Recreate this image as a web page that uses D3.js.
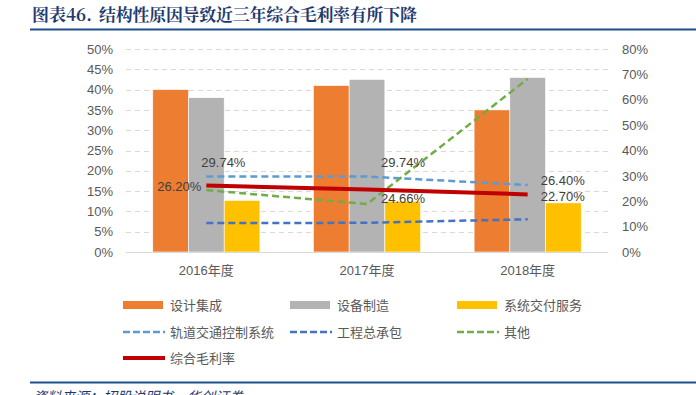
<!DOCTYPE html>
<html>
<head>
<meta charset="UTF-8">
<script src="https://d3js.org/d3.v7.min.js"></script>
<style>
  body { margin: 0; background: #fff; font-family: "Liberation Sans", "Noto Sans CJK SC", sans-serif; }
  svg text { font-family: "Liberation Sans", "Noto Sans CJK SC", sans-serif; }
</style>
</head>
<body>
<div id="chart"></div>
<script>
// categories
const years = ["2016年度", "2017年度", "2018年度"];

// bar series (left axis)
const barSeries = ["设计集成", "设备制造", "系统交付服务"];
const sheji = [40.0, 41.0, 35.0];
const shebei = [38.0, 42.5, 43.0];
const jiaofu = [12.7, 12.5, 12.1];

// line series (right axis)
const guidao = [29.74, 29.74, 26.40];
const gongcheng = [11.4, 11.5, 12.9];
const qita = [24.4, 18.9, 68.2];
const zonghe = [26.20, 24.66, 22.70];

const leftTicks = [0, 5, 10, 15, 20, 25, 30, 35, 40, 45, 50];
const rightTicks = [0, 10, 20, 30, 40, 50, 60, 70, 80];

const W = 696, H = 395;
const m = { left: 126, right: 608, top: 49, bottom: 252 };

const svg = d3.select("#chart").append("svg")
  .attr("width", W).attr("height", H);

// title
const titleStyle = sel => sel.attr("y", 21).attr("fill", "#1f3a6e")
  .style("font-family", "'Noto Serif CJK SC', 'Noto Sans CJK SC', serif")
  .style("font-size", "17px").style("font-weight", "bold");
svg.append("text").attr("x", 32).call(titleStyle).text("图表46.");
svg.append("text").attr("x", 99).call(titleStyle)
  .attr("textLength", 318).attr("lengthAdjust", "spacing")
  .text("结构性原因导致近三年综合毛利率有所下降");
svg.append("line").attr("x1", 30).attr("x2", 696).attr("y1", 29.5).attr("y2", 29.5)
  .attr("stroke", "#1f4e8c").attr("stroke-width", 2);

// scales
const x = d3.scaleBand().domain(years).range([m.left, m.right]).paddingInner(0).paddingOuter(0);
const xs = d3.scaleBand().domain(barSeries).range([0, x.bandwidth()]).paddingInner(0).paddingOuter(0.75);
const yL = d3.scaleLinear().domain([0, 50]).range([m.bottom, m.top]);
const yR = d3.scaleLinear().domain([0, 80]).range([m.bottom, m.top]);

// gridlines
svg.append("g").selectAll("line").data(leftTicks.slice(1)).join("line")
  .attr("x1", m.left).attr("x2", m.right)
  .attr("y1", d => Math.round(yL(d)) + 0.5).attr("y2", d => Math.round(yL(d)) + 0.5)
  .attr("stroke", "#d9d9d9").attr("stroke-dasharray", "5,4");

// left axis
const axL = svg.append("g").attr("transform", `translate(${m.left - 8},0)`)
  .call(d3.axisLeft(yL).tickValues(leftTicks).tickFormat(d => d + "%").tickSize(0).tickPadding(5));
axL.select(".domain").remove();
axL.selectAll("text").attr("fill", "#595959").style("font-size", "13px");

// right axis
const axR = svg.append("g").attr("transform", `translate(${m.right + 14},0)`)
  .call(d3.axisRight(yR).tickValues(rightTicks).tickFormat(d => d + "%").tickSize(0).tickPadding(0));
axR.select(".domain").remove();
axR.selectAll("text").attr("fill", "#595959").style("font-size", "13px");

// bars
const barColors = ["#ed7d31", "#b3b3b3", "#ffc000"];
const barData = [sheji, shebei, jiaofu];
barData.forEach((vals, si) => {
  svg.append("g").selectAll("rect").data(vals).join("rect")
    .attr("x", (d, i) => x(years[i]) + xs(barSeries[si]))
    .attr("y", d => yL(d))
    .attr("width", xs.bandwidth())
    .attr("height", d => m.bottom - yL(d))
    .attr("fill", barColors[si])
    .attr("stroke", "#fff").attr("stroke-width", 0.6);
});

// baseline
svg.append("line").attr("x1", m.left).attr("x2", m.right)
  .attr("y1", m.bottom + 0.5).attr("y2", m.bottom + 0.5)
  .attr("stroke", "#d9d9d9");

// x labels
svg.append("g").selectAll("text").data(years).join("text")
  .attr("x", d => x(d) + x.bandwidth() / 2).attr("y", 275)
  .attr("text-anchor", "middle").attr("fill", "#595959")
  .style("font-size", "13px").text(d => d);

// lines
const line = d3.line().x((d, i) => x(years[i]) + x.bandwidth() / 2).y(d => yR(d));
const lineDefs = [
  { name: "轨道交通控制系统", vals: guidao, color: "#5b9bd5", dash: "7,4", w: 2.5 },
  { name: "工程总承包", vals: gongcheng, color: "#4472c4", dash: "7,4", w: 2.5 },
  { name: "其他", vals: qita, color: "#70ad47", dash: "7,4", w: 2.5 },
  { name: "综合毛利率", vals: zonghe, color: "#c00000", dash: null, w: 4 }
];
lineDefs.forEach(l => {
  svg.append("path").datum(l.vals)
    .attr("d", line).attr("fill", "none")
    .attr("stroke", l.color).attr("stroke-width", l.w)
    .attr("stroke-dasharray", l.dash);
});

// data labels
const cx = i => x(years[i]) + x.bandwidth() / 2;
const labels = [
  { vals: guidao, i: 0, dx: -5, dy: -14, anchor: "start" },
  { vals: guidao, i: 1, dx: 14, dy: -14, anchor: "start" },
  { vals: guidao, i: 2, dx: 13, dy: -5, anchor: "start" },
  { vals: zonghe, i: 0, dx: -5, dy: 1, anchor: "end" },
  { vals: zonghe, i: 1, dx: 14, dy: 9, anchor: "start" },
  { vals: zonghe, i: 2, dx: 13, dy: 2, anchor: "start" }
];
svg.append("g").selectAll("text").data(labels).join("text")
  .attr("x", d => cx(d.i) + d.dx)
  .attr("y", d => yR(d.vals[d.i]) + d.dy)
  .attr("dy", "0.35em")
  .attr("text-anchor", d => d.anchor)
  .attr("fill", "#404040").style("font-size", "13px")
  .text(d => d.vals[d.i].toFixed(2) + "%");

// legend
const legend = [
  { name: "设计集成", type: "rect", color: barColors[0], col: 0, row: 0 },
  { name: "设备制造", type: "rect", color: barColors[1], col: 1, row: 0 },
  { name: "系统交付服务", type: "rect", color: barColors[2], col: 2, row: 0 },
  { name: "轨道交通控制系统", type: "dash", color: "#5b9bd5", col: 0, row: 1 },
  { name: "工程总承包", type: "dash", color: "#4472c4", col: 1, row: 1 },
  { name: "其他", type: "dash", color: "#70ad47", col: 2, row: 1 },
  { name: "综合毛利率", type: "solid", color: "#c00000", col: 0, row: 2 }
];
const colX = [123, 290, 457], rowY = [305, 332, 358];
const lg = svg.append("g").selectAll("g").data(legend).join("g")
  .attr("transform", d => `translate(${colX[d.col]},${rowY[d.row]})`);
lg.filter(d => d.type === "rect").append("rect")
  .attr("x", 0).attr("y", -4).attr("width", 40).attr("height", 8).attr("fill", d => d.color);
lg.filter(d => d.type !== "rect").append("line")
  .attr("x1", 0).attr("x2", 42).attr("y1", 0).attr("y2", 0)
  .attr("stroke", d => d.color)
  .attr("stroke-width", d => d.type === "solid" ? 4 : 2.5)
  .attr("stroke-dasharray", d => d.type === "dash" ? "7,3" : null);
lg.append("text").attr("x", 47).attr("y", 0).attr("dy", "0.35em")
  .attr("fill", "#595959").style("font-size", "13px")
  .style("font-family", "'Noto Sans CJK SC', sans-serif")
  .text(d => d.name);

// footer
svg.append("line").attr("x1", 30).attr("x2", 696).attr("y1", 382.5).attr("y2", 382.5)
  .attr("stroke", "#1f4e8c").attr("stroke-width", 2);
svg.append("text").attr("x", 33).attr("y", 402)
  .attr("fill", "#1f3a6e").style("font-style", "italic")
  .style("font-family", "'Noto Sans CJK SC', sans-serif")
  .style("font-size", "14px").text("资料来源：招股说明书，华创证券");
</script>
</body>
</html>
